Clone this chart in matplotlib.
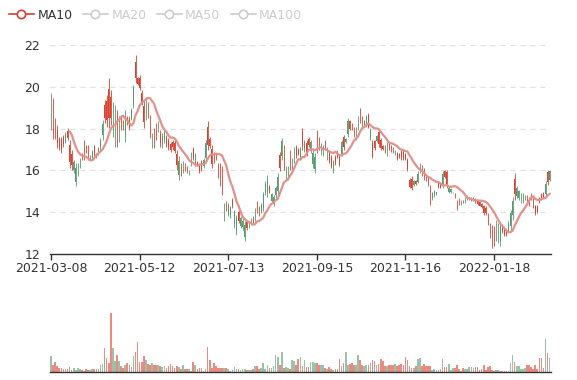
import matplotlib
matplotlib.use('Agg')
import matplotlib.pyplot as plt
from matplotlib.lines import Line2D
import numpy as np
import pandas as pd

# x axis labels (one every 43 trading days)
tick_labels = ['2021-03-08', '2021-05-12', '2021-07-13', '2021-09-15', '2021-11-16', '2022-01-18']
label_step = 43

open_ = [19.35, 17.90, 17.70, 17.30, 17.10, 17.00, 17.25, 17.75, 17.55, 16.40,
         16.25, 16.40, 16.10, 16.20, 16.50, 16.55, 16.70, 16.90, 16.65, 16.70,
         16.90, 16.75, 16.62, 17.05, 17.45, 18.20, 18.50, 18.40, 18.50, 18.50,
         19.00, 18.80, 17.50, 18.35, 18.10, 18.05, 18.60, 18.25, 18.05, 18.90,
         19.95, 20.40, 20.15, 19.95, 19.25, 18.30, 19.30, 18.65, 17.80, 17.65,
         17.30, 17.60, 18.25, 17.30, 17.65, 17.80, 17.25, 17.10, 17.00, 17.10,
         16.95, 16.25, 16.45, 15.85, 16.30, 16.05, 15.95, 16.00, 16.80, 16.60,
         16.70, 16.23, 15.95, 16.05, 16.50, 17.30, 17.20, 17.15, 16.30, 16.45,
         16.55, 15.75, 15.40, 15.10, 14.30, 14.10, 14.35, 14.20, 14.30, 14.00,
         13.70, 13.60, 13.70, 13.60, 13.40, 13.25, 13.50, 13.65, 13.55, 14.10,
         14.05, 13.90, 14.35, 14.85, 15.35, 15.60, 15.00, 14.85, 14.75, 15.15,
         15.70, 16.10, 17.40, 16.20, 16.10, 16.05, 16.20, 16.50, 17.00, 16.70,
         16.80, 17.05, 17.15, 17.35, 16.80, 17.20, 17.35, 16.85, 16.65, 17.00,
         17.10, 17.20, 17.10, 17.05, 17.05, 16.45, 16.20, 16.40, 16.35, 16.65,
         16.30, 17.35, 17.10, 17.50, 18.35, 18.00, 18.00, 17.70, 18.00, 18.50,
         18.35, 18.10, 18.38, 18.55, 18.10, 17.95, 16.70, 17.05, 17.65, 17.25,
         17.05, 17.02, 16.90, 17.30, 17.05, 16.95, 16.88, 16.95, 16.58, 16.62,
         16.60, 16.60, 16.55, 16.05, 15.20, 15.15, 15.50, 15.35, 15.85, 16.25,
         15.80, 15.65, 15.52, 15.30, 14.50, 14.92, 15.00, 14.96, 15.20, 15.18,
         15.85, 15.70, 15.30, 15.18, 15.10, 14.97, 14.72, 14.20, 14.42, 14.56,
         14.47, 14.70, 14.78, 14.72, 14.70, 14.70, 14.48, 14.40, 14.32, 14.24,
         13.95, 13.95, 13.50, 12.90, 12.50, 12.55, 13.45, 13.30, 13.30, 13.07,
         12.90, 12.90, 13.45, 13.95, 14.55, 14.85, 15.15, 15.00, 14.85, 14.85,
         14.78, 14.50, 14.35, 14.65, 14.28, 13.95, 14.02, 14.50, 14.65, 14.72,
         15.35, 15.45, 15.95]

close = [18.30, 19.05, 18.30, 17.95, 17.50, 17.45, 17.60, 17.40, 17.90, 17.20,
         16.80, 16.00, 15.45, 15.85, 16.20, 16.75, 17.25, 17.15, 17.05, 16.50,
         16.60, 17.10, 16.78, 16.80, 17.10, 17.70, 19.15, 19.30, 19.90, 19.50,
         17.90, 17.50, 18.50, 17.60, 18.50, 18.30, 17.70, 18.50, 18.45, 18.50,
         19.15, 21.20, 20.40, 20.40, 19.70, 19.10, 18.65, 19.10, 18.40, 17.20,
         17.80, 18.05, 17.95, 17.75, 17.20, 17.45, 17.55, 17.40, 17.25, 17.35,
         17.30, 16.80, 15.80, 16.20, 16.00, 16.25, 16.10, 15.85, 16.35, 17.00,
         16.30, 16.38, 16.25, 16.40, 16.20, 16.60, 18.10, 17.50, 17.00, 16.80,
         16.75, 16.20, 16.10, 15.90, 13.75, 14.40, 13.90, 13.85, 14.60, 13.45,
         13.10, 14.00, 13.35, 13.30, 12.80, 13.55, 13.30, 13.45, 13.75, 13.65,
         14.45, 14.20, 14.05, 14.20, 14.95, 14.90, 15.25, 14.55, 14.40, 14.80,
         15.00, 16.75, 16.70, 17.00, 15.65, 15.70, 16.80, 16.15, 16.50, 17.10,
         17.00, 16.60, 17.85, 17.00, 17.30, 17.50, 16.95, 16.30, 16.05, 17.75,
         17.50, 16.85, 16.75, 17.35, 16.60, 16.85, 16.60, 16.00, 16.65, 16.90,
         16.65, 16.80, 17.60, 17.35, 17.75, 18.35, 18.20, 18.00, 17.55, 18.05,
         18.85, 18.50, 18.15, 18.20, 18.65, 17.55, 17.30, 17.40, 17.42, 17.85,
         17.45, 17.18, 17.15, 16.75, 17.30, 17.15, 17.08, 16.80, 16.85, 16.78,
         16.90, 16.90, 16.75, 16.50, 15.55, 15.60, 15.30, 15.50, 15.45, 15.95,
         16.20, 16.00, 15.72, 15.62, 15.15, 14.68, 14.80, 14.86, 15.42, 15.35,
         15.25, 15.95, 15.90, 14.95, 14.95, 14.93, 14.88, 14.50, 14.62, 14.40,
         14.57, 14.50, 14.64, 14.64, 14.57, 14.57, 14.63, 14.55, 14.47, 14.38,
         14.28, 14.20, 13.85, 13.35, 13.20, 13.15, 12.80, 12.70, 12.60, 13.32,
         13.18, 13.10, 13.10, 13.35, 13.85, 15.60, 14.78, 14.68, 14.52, 14.52,
         14.64, 14.75, 14.68, 14.85, 14.65, 14.28, 14.30, 14.70, 14.85, 14.92,
         14.85, 15.90, 15.55]

low = [17.91, 17.49, 17.49, 17.06, 16.98, 16.82, 17.14, 17.30, 17.46, 16.11,
       16.03, 15.87, 15.23, 15.71, 16.11, 16.51, 16.51, 16.82, 16.51, 16.43,
       16.51, 16.67, 16.59, 16.75, 16.98, 17.46, 18.26, 18.10, 18.02, 18.18,
       17.62, 17.14, 17.14, 17.38, 17.94, 17.94, 17.38, 18.18, 17.94, 18.42,
       18.97, 20.17, 20.09, 19.85, 19.13, 18.02, 18.42, 18.50, 17.54, 17.06,
       17.06, 17.46, 17.86, 17.14, 17.06, 17.30, 17.14, 16.98, 16.90, 16.98,
       16.82, 16.03, 15.55, 15.71, 15.87, 15.95, 15.87, 15.79, 16.19, 16.51,
       16.19, 16.19, 15.87, 15.95, 16.11, 16.43, 16.98, 17.06, 16.11, 16.35,
       16.51, 15.63, 15.23, 14.83, 13.56, 14.04, 13.80, 13.72, 14.20, 13.24,
       12.92, 13.48, 13.24, 13.16, 12.61, 13.16, 13.24, 13.40, 13.48, 13.56,
       13.96, 13.80, 13.96, 14.04, 14.83, 14.75, 14.91, 14.44, 14.28, 14.68,
       14.83, 15.95, 16.51, 16.03, 15.55, 15.55, 16.03, 16.03, 16.35, 16.59,
       16.75, 16.51, 16.98, 16.90, 16.67, 17.14, 16.82, 16.11, 15.87, 16.82,
       16.98, 16.75, 16.67, 16.98, 16.51, 16.35, 16.11, 15.87, 16.27, 16.59,
       16.19, 16.67, 16.98, 17.30, 17.62, 17.94, 17.94, 17.62, 17.46, 17.94,
       18.26, 18.02, 18.10, 18.10, 18.02, 17.46, 16.59, 16.98, 17.38, 17.14,
       16.98, 16.98, 16.82, 16.67, 16.98, 16.90, 16.82, 16.75, 16.51, 16.59,
       16.51, 16.51, 16.51, 15.95, 15.15, 15.07, 15.23, 15.31, 15.39, 15.87,
       15.71, 15.55, 15.47, 15.23, 14.36, 14.60, 14.75, 14.83, 15.15, 15.15,
       15.15, 15.63, 15.15, 14.91, 14.91, 14.91, 14.68, 14.12, 14.36, 14.36,
       14.44, 14.44, 14.60, 14.60, 14.52, 14.52, 14.44, 14.36, 14.28, 14.20,
       13.88, 13.88, 13.40, 12.76, 12.29, 12.37, 12.61, 12.53, 12.37, 13.00,
       12.84, 12.84, 13.00, 13.16, 13.64, 14.60, 14.68, 14.60, 14.44, 14.44,
       14.60, 14.44, 14.28, 14.60, 14.20, 13.88, 13.96, 14.44, 14.60, 14.68,
       14.75, 15.31, 15.47]

high = [19.72, 19.45, 18.50, 18.18, 17.62, 17.62, 17.70, 17.86, 18.02, 17.46,
        16.98, 16.51, 16.35, 16.35, 16.59, 16.82, 17.46, 17.22, 17.22, 16.75,
        16.98, 17.22, 16.82, 17.14, 17.54, 18.42, 19.37, 19.61, 20.41, 19.85,
        19.29, 19.13, 18.89, 18.58, 18.66, 18.42, 18.89, 18.58, 18.58, 18.97,
        20.09, 21.52, 20.49, 20.57, 19.85, 19.37, 19.53, 19.29, 18.66, 17.78,
        18.02, 18.26, 18.34, 17.94, 17.78, 17.94, 17.70, 17.54, 17.38, 17.46,
        17.46, 16.98, 16.67, 16.35, 16.43, 16.35, 16.19, 16.03, 16.90, 17.14,
        16.82, 16.43, 16.35, 16.51, 16.59, 17.46, 18.34, 17.62, 17.22, 16.90,
        16.82, 16.35, 16.35, 16.19, 14.44, 14.52, 14.44, 14.28, 14.68, 14.12,
        13.88, 14.12, 13.80, 13.72, 13.56, 13.64, 13.56, 13.72, 13.80, 14.20,
        14.52, 14.28, 14.44, 14.99, 15.47, 15.79, 15.31, 14.91, 14.83, 15.23,
        15.87, 16.90, 17.54, 17.22, 16.19, 16.19, 16.98, 16.59, 17.14, 17.22,
        17.06, 17.14, 18.02, 17.46, 17.46, 17.62, 17.46, 16.98, 16.82, 17.94,
        17.62, 17.30, 17.22, 17.46, 17.14, 16.98, 16.75, 16.51, 16.75, 16.98,
        16.75, 17.46, 17.70, 17.54, 18.50, 18.42, 18.26, 18.10, 18.10, 18.58,
        18.97, 18.58, 18.42, 18.66, 18.74, 18.02, 17.46, 17.46, 17.70, 17.94,
        17.54, 17.22, 17.22, 17.38, 17.38, 17.22, 17.14, 16.98, 16.90, 16.82,
        16.98, 16.98, 16.82, 16.59, 15.63, 15.71, 15.55, 15.55, 15.95, 16.35,
        16.27, 16.11, 15.79, 15.71, 15.31, 14.99, 15.07, 14.99, 15.47, 15.39,
        15.95, 16.03, 16.03, 15.23, 15.15, 14.99, 14.91, 14.60, 14.68, 14.60,
        14.60, 14.75, 14.83, 14.75, 14.75, 14.75, 14.68, 14.60, 14.52, 14.44,
        14.36, 14.28, 13.96, 13.48, 13.40, 13.32, 13.64, 13.48, 13.48, 13.40,
        13.24, 13.16, 13.56, 14.12, 14.75, 15.87, 15.23, 15.07, 14.91, 14.91,
        14.83, 14.83, 14.75, 14.91, 14.75, 14.36, 14.36, 14.75, 14.91, 14.99,
        15.47, 16.03, 16.03]

volume = [16, 7, 10, 6, 4, 4, 3, 3, 3, 5,
          2, 4, 2, 4, 3, 2, 1, 3, 2, 2,
          3, 3, 3, 3, 7, 8, 24, 14, 9, 59,
          24, 11, 17, 11, 6, 4, 7, 9, 7, 5,
          16, 20, 30, 10, 10, 16, 12, 8, 7, 9,
          7, 7, 7, 6, 5, 6, 4, 6, 8, 6,
          4, 6, 5, 3, 7, 3, 3, 3, 1, 10,
          7, 3, 4, 4, 1, 3, 25, 12, 4, 9,
          6, 4, 4, 4, 4, 4, 3, 1, 2, 5,
          3, 3, 2, 3, 3, 2, 2, 2, 3, 6,
          6, 3, 4, 9, 3, 7, 4, 4, 6, 17,
          15, 7, 20, 4, 5, 4, 3, 12, 11, 7,
          13, 15, 6, 12, 5, 5, 10, 10, 9, 9,
          7, 7, 7, 4, 3, 5, 3, 2, 3, 3,
          13, 6, 9, 20, 7, 8, 9, 7, 7, 17,
          12, 7, 6, 7, 7, 9, 12, 11, 7, 8,
          13, 11, 6, 6, 7, 7, 7, 8, 6, 7,
          8, 7, 15, 12, 6, 4, 4, 6, 13, 14,
          6, 8, 6, 6, 6, 2, 3, 2, 2, 3,
          13, 5, 5, 8, 2, 4, 4, 7, 3, 1,
          4, 3, 3, 5, 5, 4, 5, 5, 2, 3,
          7, 2, 5, 6, 2, 1, 2, 2, 1, 1,
          1, 1, 1, 9, 17, 10, 6, 6, 3, 3,
          4, 7, 7, 5, 3, 7, 3, 14, 14, 4,
          33, 19, 14]

red = '#d9402f'
green = '#569a70'
ma_color = '#e3918c'

o = np.array(open_)
c = np.array(close)
n = len(c)
x = np.arange(n)
cols = [red if c[i] >= o[i] else green for i in range(n)]
ma10 = pd.Series(close).rolling(10).mean()

fig = plt.figure(figsize=(5.77, 3.80), dpi=100)

# price panel
ax = fig.add_axes([50/577, 1-254/380, 500.7/577, 209/380])
ax.vlines(x, low, high, colors=cols, lw=0.6)
ax.bar(x, np.abs(c-o), bottom=np.minimum(o, c), width=0.3, color=cols, linewidth=0)
ax.plot(x, ma10, color=ma_color, lw=1.6, solid_capstyle='round')
ax.set_xlim(-0.5, n-0.5)
ax.set_ylim(12, 22)
ax.set_yticks(range(12, 23, 2))
ax.yaxis.grid(True, color='#e0e0e0', ls=(0, (4, 4)), lw=0.9)
ax.set_axisbelow(True)
ax.set_xticks(range(0, n, label_step)[:len(tick_labels)])
ax.set_xticklabels(tick_labels)
for s in ['left', 'right', 'top']:
    ax.spines[s].set_visible(False)
ax.spines['bottom'].set_color('#333333')
ax.spines['bottom'].set_linewidth(1.0)
ax.tick_params(axis='y', length=0, pad=7, labelsize=9, labelcolor='#333333')
ax.tick_params(axis='x', length=4, width=1, color='#333333', pad=2, labelsize=9, labelcolor='#333333')

# volume panel
vax = fig.add_axes([50/577, 1-372.3/380, 500.7/577, 72/380])
vax.bar(x, volume, width=0.8, color=cols, alpha=0.6, linewidth=0)
vax.set_xlim(-0.5, n-0.5)
vax.set_ylim(0, 72)
vax.set_xticks([])
vax.set_yticks([])
for s in ['left', 'right', 'top']:
    vax.spines[s].set_visible(False)
vax.spines['bottom'].set_color('#333333')
vax.spines['bottom'].set_linewidth(1.0)

# legend
names = ['MA10', 'MA20', 'MA50', 'MA100']
lcols = ['#d0403a', '#cccccc', '#cccccc', '#cccccc']
handles = [Line2D([], [], color=lc, lw=1.2, marker='o', ms=6, mfc='white', mew=1.2) for lc in lcols]
fig.legend(handles, names, loc='upper left', bbox_to_anchor=(0.0, 1.0), ncol=4, frameon=False,
           fontsize=9, handlelength=2.0, handletextpad=0.3, columnspacing=0.8,
           labelcolor=['#333333', '#cccccc', '#cccccc', '#cccccc'], borderaxespad=0.3)

fig.savefig('out.png', dpi=100)
